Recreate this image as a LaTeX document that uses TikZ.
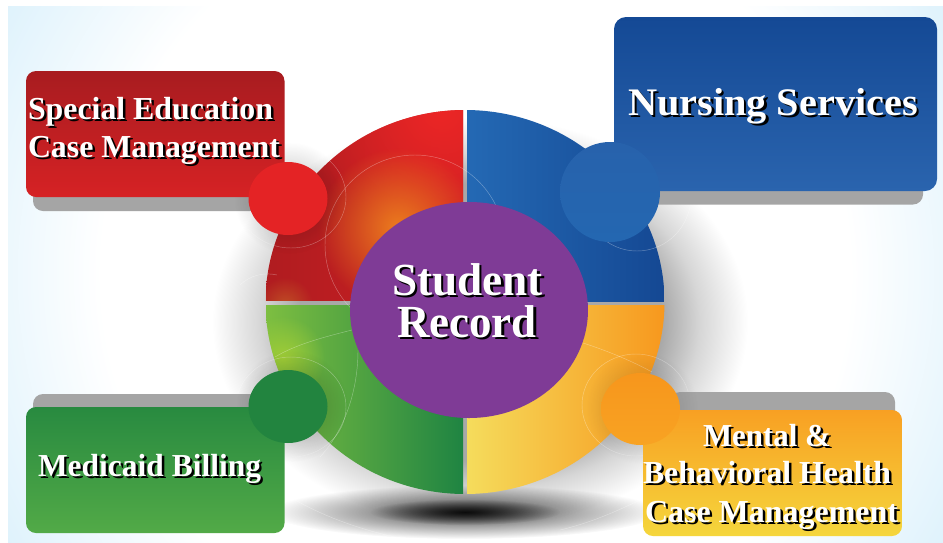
\documentclass[tikz,border=0pt]{standalone}
\usepackage{graphicx}
\usepackage{fontspec}
\setmainfont{Liberation Serif}
\usetikzlibrary{fadings}
\definecolor{bgedge}{RGB}{222,242,252}
\definecolor{haloa}{gray}{0.66}
\definecolor{halob}{gray}{0.84}
\pgfdeclareradialshading{bgshade}{\pgfpointorigin}{color(0bp)=(white);color(20bp)=(white);color(29bp)=(bgedge);color(50bp)=(bgedge)}
\pgfdeclareradialshading{haloshade}{\pgfpointorigin}{color(0bp)=(haloa);color(17bp)=(haloa);color(20.5bp)=(halob);color(25bp)=(white);color(50bp)=(white)}
\tikzfading[name=softfade, inner color=transparent!0, outer color=transparent!100]
\definecolor{panelgray}{RGB}{165,165,165}
\definecolor{purplec}{RGB}{127,59,150}
\tikzset{
  panelshadow/.style={fill=panelgray, rounded corners=10pt},
  thinarc/.style={draw=white, line width=0.45pt, opacity=0.35},
  txt/.style={inner sep=0pt, outer sep=0pt, anchor=base west, text=white, font=\bfseries},
  halfglow/.style={fill=black, opacity=0.28, path fading=softfade},
}
\newcommand{\shd}[2]{\resizebox{#1}{\height}{\leavevmode\rlap{\raisebox{-2.5pt}{\kern2.5pt\textcolor{black}{#2}}}#2}}
\begin{document}
\begin{tikzpicture}[x=1pt,y=-1pt]
\useasboundingbox (0,0) rectangle (943,542);
\fill[white] (0,0) rectangle (943,542);
% background
\begin{scope}
  \clip (8,6) rectangle (943,542);
  \shade[shading=bgshade] (8,-197) rectangle (943,745);
  \shade[shading=haloshade] (480,322) ellipse [x radius=268, y radius=205];
  \fill[fill=black, opacity=0.75, path fading=softfade] (465,512) ellipse [x radius=195, y radius=27];
  \fill[fill=black, opacity=0.8, path fading=softfade] (465,512) ellipse [x radius=95, y radius=13];
\end{scope}
% pie
\begin{scope}
  \clip (465,302) ellipse [x radius=199.5, y radius=192];
  % red
  \begin{scope}
    \clip (260,100) rectangle (463,300);
    \shade[left color={rgb,255:red,176;green,28;blue,32}, right color={rgb,255:red,205;green,32;blue,35}] (266,100) rectangle (463,300);
    \fill[fill={rgb,255:red,236;green,38;blue,38}, path fading=softfade] (440,110) circle [radius=130];
    \fill[fill={rgb,255:red,236;green,125;blue,30}, path fading=softfade] (398,228) circle [radius=80];
    \fill[fill={rgb,255:red,200;green,110;blue,40}, opacity=0.6, path fading=softfade] (285,305) circle [radius=28];
  \end{scope}
  % blue
  \shade[left color={rgb,255:red,36;green,105;blue,180}, right color={rgb,255:red,20;green,71;blue,146}] (467,100) rectangle (670,301);
  % green
  \begin{scope}
    \clip (260,305) rectangle (463,500);
    \shade[left color={rgb,255:red,125;green,190;blue,65}, middle color={rgb,255:red,78;green,158;blue,70}, right color={rgb,255:red,31;green,132;blue,66}] (266,305) rectangle (463,500);
    \fill[fill={rgb,255:red,160;green,205;blue,55}, path fading=softfade] (283,358) circle [radius=42];
  \end{scope}
  % yellow
  \shade[left color={rgb,255:red,245;green,220;blue,92}, middle color={rgb,255:red,248;green,176;blue,42}, right color={rgb,255:red,247;green,150;blue,28}] (467,305) rectangle (670,500);
\end{scope}
% thin decorative arcs
\draw[thinarc] (291,197) ellipse [x radius=55, y radius=51];
\draw[thinarc] (415,245) circle [radius=90];
\draw[thinarc] (637,196) ellipse [x radius=54, y radius=55];
\draw[thinarc] (291,407) ellipse [x radius=55, y radius=50];
\draw[thinarc] (636,405) ellipse [x radius=54, y radius=51];
\draw[thinarc] (352,330) .. controls (320,338) and (295,345) .. (275,357);
\draw[thinarc] (358,350) .. controls (358,390) and (345,430) .. (320,457);
\draw[thinarc] (290,497) .. controls (320,515) and (360,530) .. (400,538);
\draw[thinarc] (640,500) .. controls (615,512) and (590,523) .. (560,530);
\draw[thinarc] (583,343) .. controls (605,350) and (630,360) .. (652,372);
\draw[thinarc] (240,285) .. controls (250,275) and (265,272) .. (277,275);
% panel shadows
\fill[panelshadow] (33,150) rectangle (260,211);
\fill[panelshadow] (640,150) rectangle (923,204.5);
\fill[panelshadow] (33,394) rectangle (260,450);
\fill[panelshadow] (670,392) rectangle (895,450);
% soft shade around the tabs
\fill[halfglow] (290,198) circle [radius=56];
\fill[halfglow] (292,406) circle [radius=56];
\fill[halfglow, opacity=0.2] (642,408) circle [radius=56];
% panels and tabs
\shade[top color={rgb,255:red,168;green,28;blue,32}, bottom color={rgb,255:red,214;green,34;blue,36}, rounded corners=10pt] (26,71) rectangle (284.5,197);
\fill[fill={rgb,255:red,228;green,35;blue,37}] (288,198.5) ellipse [x radius=39.5, y radius=36.5];
\shade[top color={rgb,255:red,20;green,73;blue,149}, bottom color={rgb,255:red,42;green,100;blue,174}, rounded corners=12pt] (614,17) rectangle (937,191);
\shade[top color={rgb,255:red,39;green,98;blue,172}, bottom color={rgb,255:red,36;green,103;blue,177}] (610,192) circle [radius=50];
\shade[top color={rgb,255:red,40;green,138;blue,64}, bottom color={rgb,255:red,82;green,170;blue,71}, rounded corners=10pt] (26,407) rectangle (284.5,533);
\fill[fill={rgb,255:red,34;green,132;blue,63}] (288,406.5) ellipse [x radius=39.5, y radius=36.5];
\shade[top color={rgb,255:red,248;green,160;blue,35}, bottom color={rgb,255:red,245;green,214;blue,60}, rounded corners=10pt] (643,410) rectangle (902,536);
\shade[top color={rgb,255:red,247;green,150;blue,28}, bottom color={rgb,255:red,248;green,163;blue,35}] (640.5,409) ellipse [x radius=39.5, y radius=36];
% centre
\fill[purplec] (469,310) ellipse [x radius=119, y radius=108];
% labels
\node[txt, font=\bfseries\fontsize{46}{48}\selectfont] (student) at (392,295) {\shd{151pt}{Student}};
\node[txt, font=\bfseries\fontsize{46}{48}\selectfont] (record) at (397,337) {\shd{140pt}{Record}};
\node[txt, font=\bfseries\fontsize{39}{41}\selectfont] (nursing) at (628,115) {\shd{290pt}{Nursing Services}};
\node[txt, font=\bfseries\fontsize{32}{34}\selectfont] (spec) at (28,119) {\shd{245pt}{Special Education}};
\node[txt, font=\bfseries\fontsize{32}{34}\selectfont] (casea) at (28,157) {\shd{252pt}{Case Management}};
\node[txt, font=\bfseries\fontsize{32}{34}\selectfont] (medicaid) at (38,476) {\shd{223pt}{Medicaid Billing}};
\node[txt, font=\bfseries\fontsize{32}{34}\selectfont] (mental) at (703,446) {\shd{128pt}{Mental \&}};
\node[txt, font=\bfseries\fontsize{32}{34}\selectfont] (behav) at (643,483) {\shd{248pt}{Behavioral Health}};
\node[txt, font=\bfseries\fontsize{32}{34}\selectfont] (caseb) at (645,522) {\shd{253pt}{Case Management}};
\end{tikzpicture}
\end{document}
